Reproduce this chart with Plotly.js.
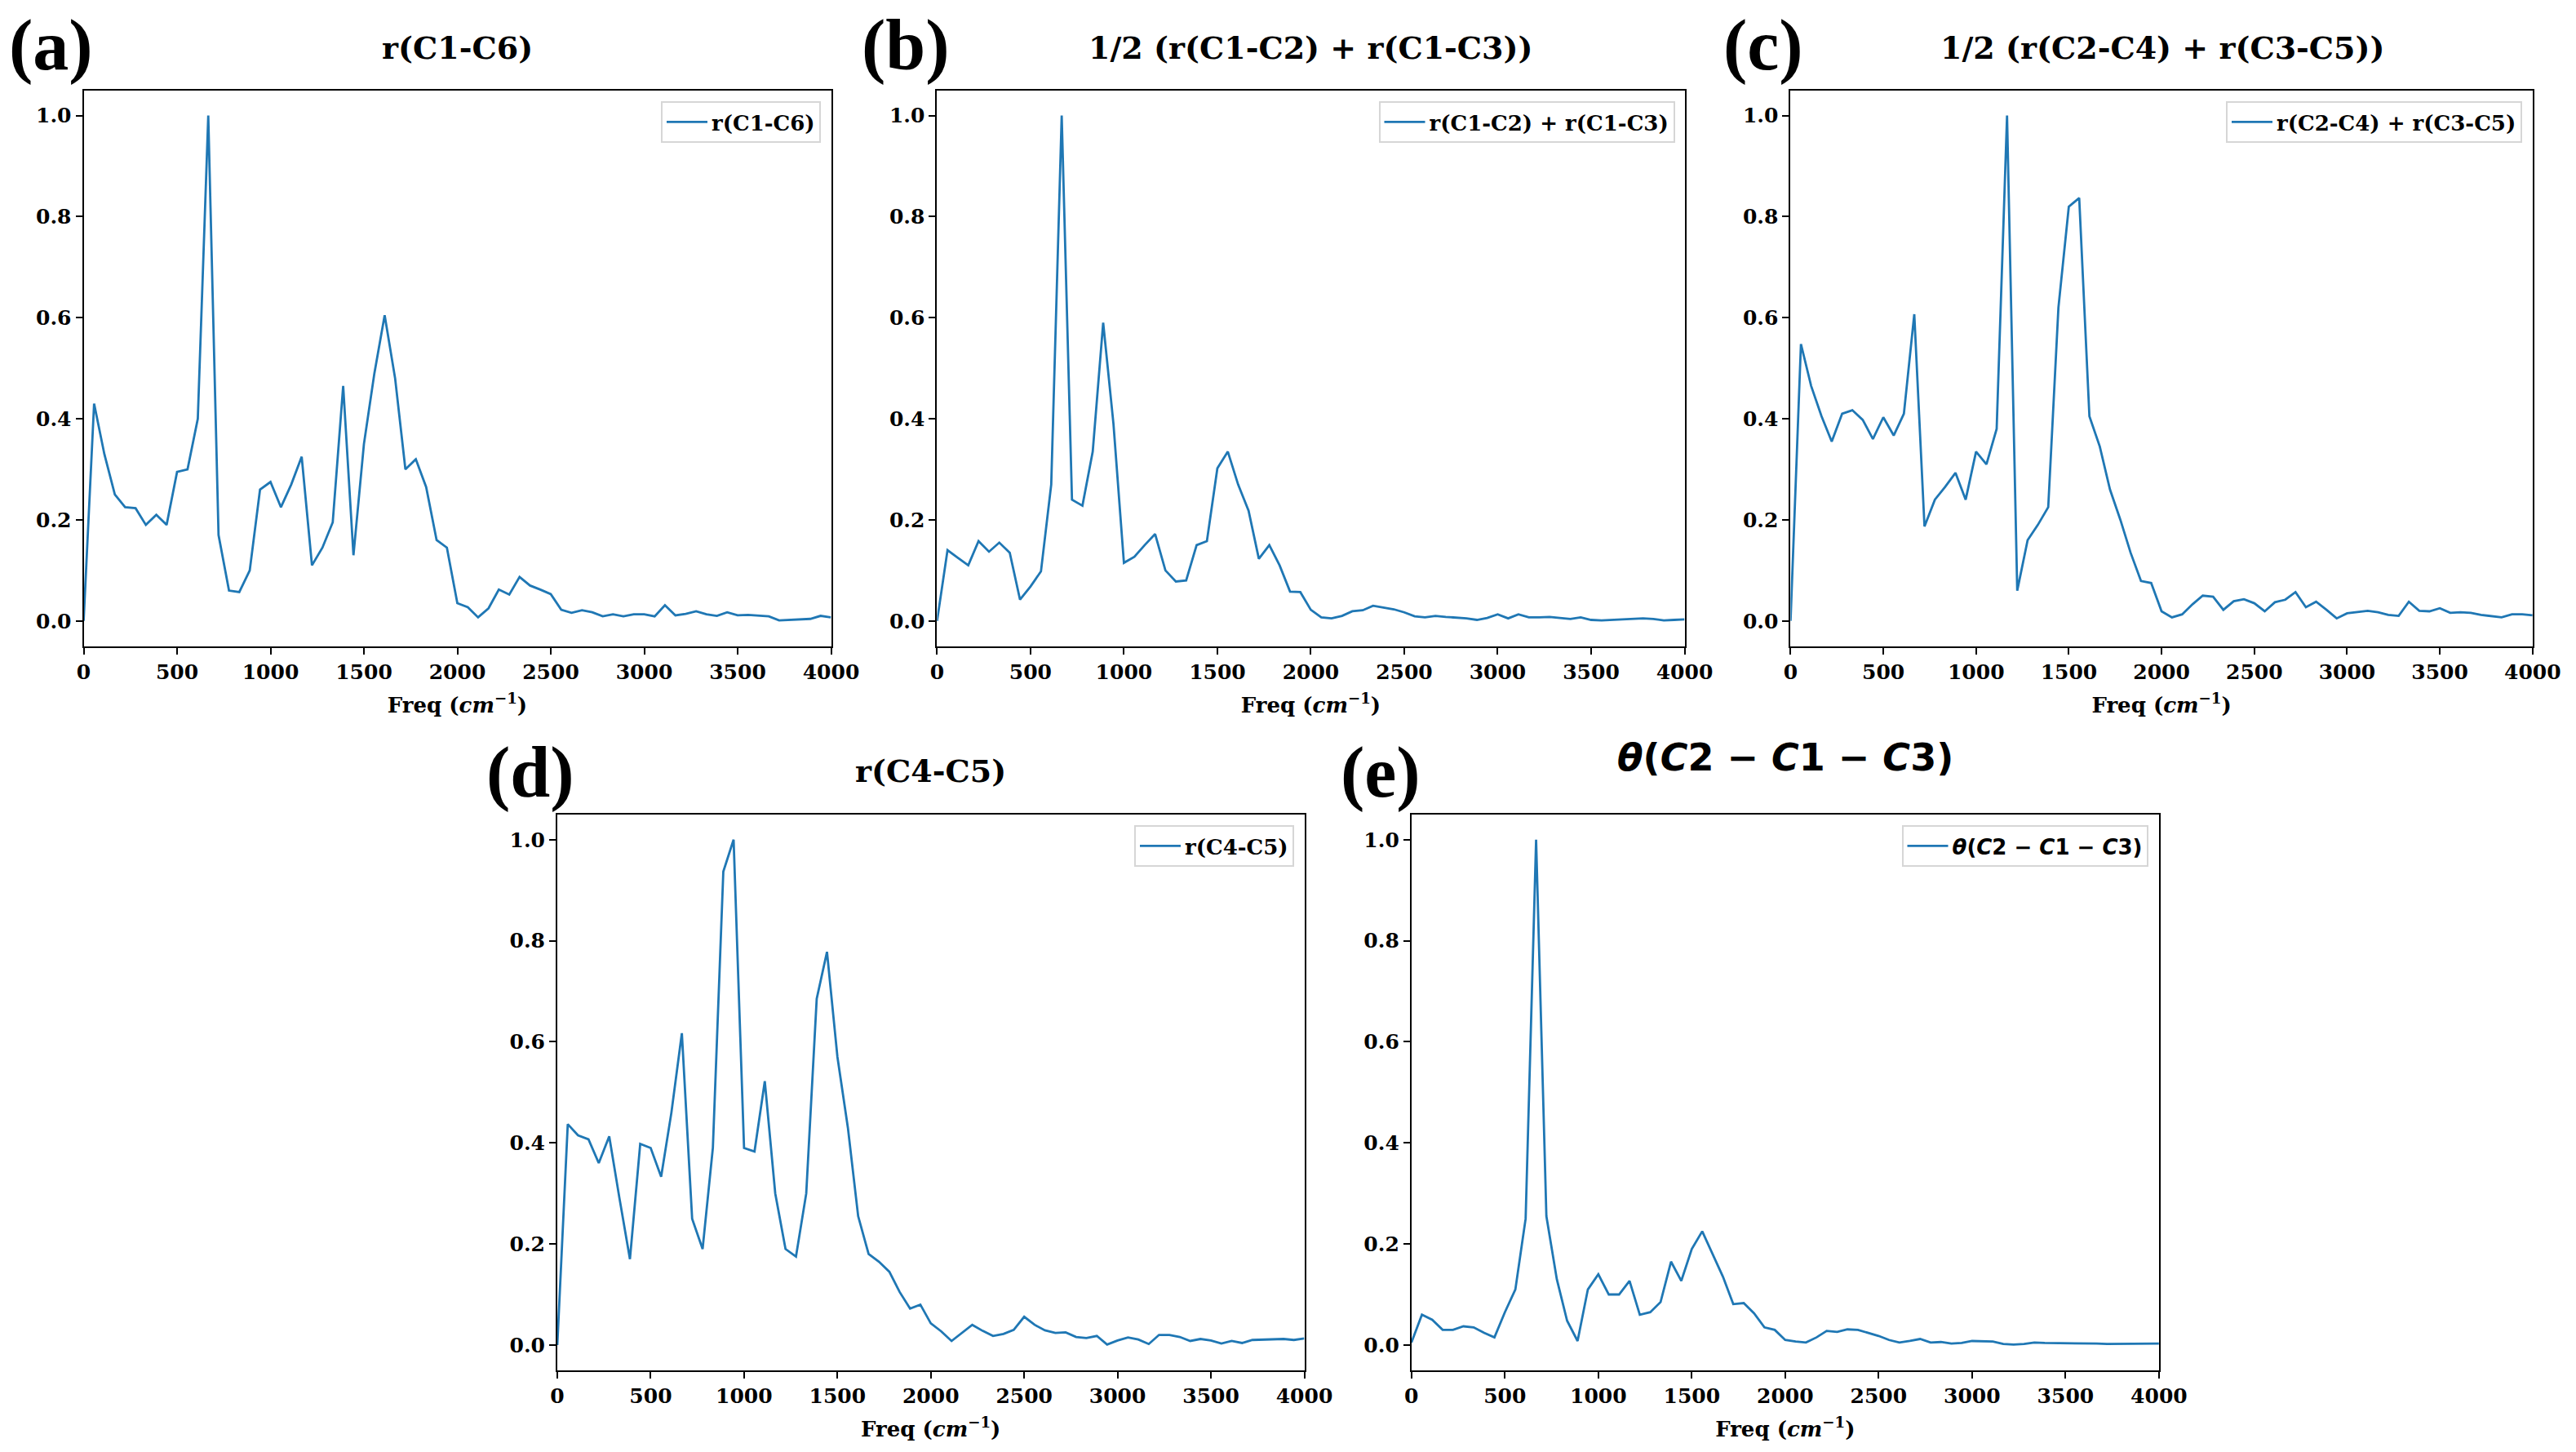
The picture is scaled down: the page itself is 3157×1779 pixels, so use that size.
<!DOCTYPE html>
<html><head><meta charset="utf-8">
<script src="https://cdn.plot.ly/plotly-3.0.1.min.js"></script>
<style>html,body{margin:0;padding:0;background:#fff}</style>
</head><body><div id="chart" style="width:3157px;height:1779px"></div>
<script>
// Frequency grid (cm^-1)
const freq = [0, 56, 111, 167, 222, 278, 333, 389, 444, 500,
  556, 611, 667, 722, 778, 833, 889, 944, 1000,
  1056, 1111, 1167, 1222, 1278, 1333, 1389, 1444, 1500,
  1556, 1611, 1667, 1722, 1778, 1833, 1889, 1944, 2000,
  2056, 2111, 2167, 2222, 2278, 2333, 2389, 2444, 2500,
  2556, 2611, 2667, 2722, 2778, 2833, 2889, 2944, 3000,
  3056, 3111, 3167, 3222, 3278, 3333, 3389, 3444, 3500,
  3556, 3611, 3667, 3722, 3778, 3833, 3889, 3944, 4000];

const rC1C6 = [0.0, 0.43, 0.33, 0.25, 0.225, 0.223, 0.19, 0.21, 0.19, 0.295,
  0.30, 0.40, 1.0, 0.17, 0.06, 0.057, 0.10, 0.26, 0.275,
  0.225, 0.27, 0.325, 0.11, 0.145, 0.195, 0.465, 0.13, 0.35,
  0.49, 0.605, 0.48, 0.30, 0.32, 0.265, 0.16, 0.145, 0.035,
  0.027, 0.007, 0.025, 0.062, 0.052, 0.087, 0.07, 0.062, 0.053,
  0.022, 0.016, 0.021, 0.017, 0.009, 0.013, 0.009, 0.013, 0.013,
  0.009, 0.031, 0.011, 0.014, 0.019, 0.013, 0.010, 0.017, 0.011,
  0.012, 0.010, 0.009, 0.001, 0.002, 0.004, 0.004, 0.010, 0.007];

const rC1C2_C1C3 = [0.0, 0.14, 0.125, 0.11, 0.158, 0.137, 0.155, 0.135, 0.042, 0.068,
  0.098, 0.27, 1.0, 0.24, 0.228, 0.335, 0.59, 0.39, 0.115,
  0.127, 0.15, 0.172, 0.10, 0.078, 0.08, 0.15, 0.158, 0.302,
  0.335, 0.27, 0.218, 0.123, 0.15, 0.11, 0.058, 0.057, 0.022,
  0.007, 0.005, 0.01, 0.019, 0.021, 0.03, 0.026, 0.023, 0.017,
  0.009, 0.007, 0.01, 0.008, 0.007, 0.005, 0.002, 0.006, 0.013,
  0.005, 0.013, 0.007, 0.007, 0.008, 0.006, 0.004, 0.007, 0.002,
  0.001, 0.002, 0.002, 0.003, 0.005, 0.004, 0.001, 0.002, 0.003];

const rC2C4_C3C5 = [0.0, 0.548, 0.465, 0.405, 0.355, 0.41, 0.417, 0.398, 0.36, 0.403,
  0.367, 0.41, 0.607, 0.187, 0.24, 0.265, 0.293, 0.24, 0.335,
  0.31, 0.38, 1.0, 0.06, 0.16, 0.19, 0.225, 0.62, 0.82,
  0.837, 0.405, 0.345, 0.26, 0.20, 0.135, 0.079, 0.075, 0.019,
  0.007, 0.013, 0.033, 0.05, 0.048, 0.022, 0.039, 0.043, 0.035,
  0.019, 0.037, 0.042, 0.057, 0.027, 0.038, 0.022, 0.005, 0.015,
  0.018, 0.02, 0.017, 0.012, 0.01, 0.038, 0.02, 0.019, 0.025,
  0.016, 0.017, 0.016, 0.012, 0.009, 0.007, 0.013, 0.013, 0.011];

const rC4C5 = [0.0, 0.437, 0.415, 0.407, 0.36, 0.413, 0.29, 0.17, 0.398, 0.39,
  0.333, 0.46, 0.617, 0.25, 0.19, 0.39, 0.937, 1.0, 0.39,
  0.383, 0.522, 0.30, 0.19, 0.175, 0.30, 0.685, 0.778, 0.57,
  0.43, 0.255, 0.18, 0.165, 0.145, 0.105, 0.072, 0.08, 0.043,
  0.027, 0.008, 0.024, 0.04, 0.028, 0.018, 0.022, 0.03, 0.056,
  0.04, 0.029, 0.024, 0.025, 0.016, 0.014, 0.018, 0.001, 0.009,
  0.015, 0.011, 0.002, 0.02, 0.02, 0.016, 0.008, 0.012, 0.009,
  0.003, 0.008, 0.004, 0.01, 0.011, 0.012, 0.012, 0.01, 0.013];

const thetaC2C1C3 = [0.005, 0.06, 0.05, 0.03, 0.03, 0.037, 0.035, 0.024, 0.015, 0.065,
  0.11, 0.25, 1.0, 0.255, 0.13, 0.048, 0.008, 0.11, 0.14,
  0.10, 0.10, 0.127, 0.06, 0.065, 0.085, 0.165, 0.127, 0.19,
  0.225, 0.18, 0.135, 0.081, 0.083, 0.063, 0.035, 0.03, 0.01,
  0.007, 0.005, 0.015, 0.028, 0.026, 0.031, 0.03, 0.024, 0.018,
  0.01, 0.005, 0.008, 0.012, 0.005, 0.006, 0.003, 0.004, 0.008,
  0.007, 0.007, 0.002, 0.001, 0.002, 0.005, 0.004, 0.004, 0.004,
  0.003, 0.003, 0.003, 0.002, 0.002, 0.003, 0.003, 0.003, 0.003];

const seriesNames = ['r(C1-C6)', 'r(C1-C2) + r(C1-C3)', 'r(C2-C4) + r(C3-C5)', 'r(C4-C5)',
  '<i>θ</i>(<i>C</i>2 − <i>C</i>1 − <i>C</i>3)'];
const panelTitles = ['r(C1-C6)', '1/2 (r(C1-C2) + r(C1-C3))', '1/2 (r(C2-C4) + r(C3-C5))', 'r(C4-C5)',
  '<i>θ</i>(<i>C</i>2 − <i>C</i>1 − <i>C</i>3)'];
const panelLetters = ['(a)', '(b)', '(c)', '(d)', '(e)'];
const xTickVals = [0, 500, 1000, 1500, 2000, 2500, 3000, 3500, 4000];
const yTickVals = [0.0, 0.2, 0.4, 0.6, 0.8, 1.0];
const seriesList = [rC1C6, rC1C2_C1C3, rC2C4_C3C5, rC4C5, thetaC2C1C3];

// ---- layout geometry (pixels in the 3157x1779 page) ----
const W = 3157, H = 1779;
const geo = [
  {l: 102.5, r: 1018.5, t: 110.7, b: 791.7, legR: 1006, legT: 124, titleY: 59, titleX: 560, letX: 62, letY: 55},
  {l: 1148.4, r: 2064.5, t: 110.7, b: 791.7, legR: 2052.5, legT: 124, titleY: 59, titleX: 1606, letX: 1110, letY: 55},
  {l: 2194.4, r: 3103.8, t: 110.7, b: 791.7, legR: 3091, legT: 124, titleY: 59, titleX: 2650, letX: 2161, letY: 55},
  {l: 683, r: 1598.5, t: 997.8, b: 1678.9, legR: 1586, legT: 1011, titleY: 944, titleX: 1140, letX: 650, letY: 946},
  {l: 1729.8, r: 2645.9, t: 997.8, b: 1678.9, legR: 2632.5, legT: 1011, titleY: 928, titleX: 2188, letX: 1692, letY: 946}
];

const serif = 'DejaVu Serif';
const lineColor = '#1f77b4';
const data = [];
const layout = {
  width: W, height: H,
  margin: {l: 0, r: 0, t: 0, b: 0},
  paper_bgcolor: 'white', plot_bgcolor: 'white',
  showlegend: true,
  annotations: []
};

seriesList.forEach((ys, i) => {
  const g = geo[i];
  const sfx = i === 0 ? '' : String(i + 1);
  data.push({
    x: freq, y: ys, type: 'scatter', mode: 'lines',
    name: seriesNames[i],
    line: {color: lineColor, width: 2.8},
    xaxis: 'x' + sfx, yaxis: 'y' + sfx,
    legend: 'legend' + sfx
  });
  layout['xaxis' + sfx] = {
    domain: [g.l / W, g.r / W], anchor: 'y' + sfx,
    range: [0, 4000], tickvals: xTickVals,
    showline: true, mirror: true, linecolor: 'black', linewidth: 2,
    ticks: 'outside', ticklen: 8, tickwidth: 2, tickcolor: 'black',
    showgrid: false, zeroline: false, automargin: false,
    tickfont: {family: serif, size: 25, weight: 'bold', color: 'black'},
    title: {text: 'Freq (<i>cm</i><sup>−1</sup>)', standoff: 18,
      font: {family: serif, size: 26, weight: 'bold', color: 'black'}}
  };
  layout['yaxis' + sfx] = {
    domain: [1 - g.b / H, 1 - g.t / H], anchor: 'x' + sfx,
    range: [-0.05, 1.05], tickvals: yTickVals, tickformat: '.1f',
    showline: true, mirror: true, linecolor: 'black', linewidth: 2,
    ticks: 'outside', ticklen: 8, tickwidth: 2, tickcolor: 'black',
    showgrid: false, zeroline: false, automargin: false,
    tickfont: {family: serif, size: 25, weight: 'bold', color: 'black'}
  };
  layout['legend' + sfx] = {
    x: g.legR / W, y: 1 - g.legT / H, xref: 'paper', yref: 'paper',
    xanchor: 'right', yanchor: 'top', itemwidth: 50,
    bgcolor: 'white', bordercolor: '#d6d6d6', borderwidth: 2,
    font: {family: i === 4 ? 'DejaVu Sans' : serif, size: 26, weight: 'bold', color: 'black'}
  };
  layout.annotations.push({
    text: panelTitles[i], xref: 'paper', yref: 'paper',
    x: g.titleX / W, y: 1 - g.titleY / H, xanchor: 'center', yanchor: 'middle',
    showarrow: false,
    font: i === 4 ? {family: 'DejaVu Sans', size: 46, weight: 'bold', color: 'black'}
                  : {family: serif, size: 38, weight: 'bold', color: 'black'}
  });
  layout.annotations.push({
    text: panelLetters[i], xref: 'paper', yref: 'paper',
    x: g.letX / W, y: 1 - g.letY / H, xanchor: 'center', yanchor: 'middle',
    showarrow: false,
    font: {family: 'Liberation Serif', size: 88, weight: 'bold', color: 'black'}
  });
});

Plotly.newPlot('chart', data, layout, {staticPlot: true, displayModeBar: false});
</script>
</body></html>
